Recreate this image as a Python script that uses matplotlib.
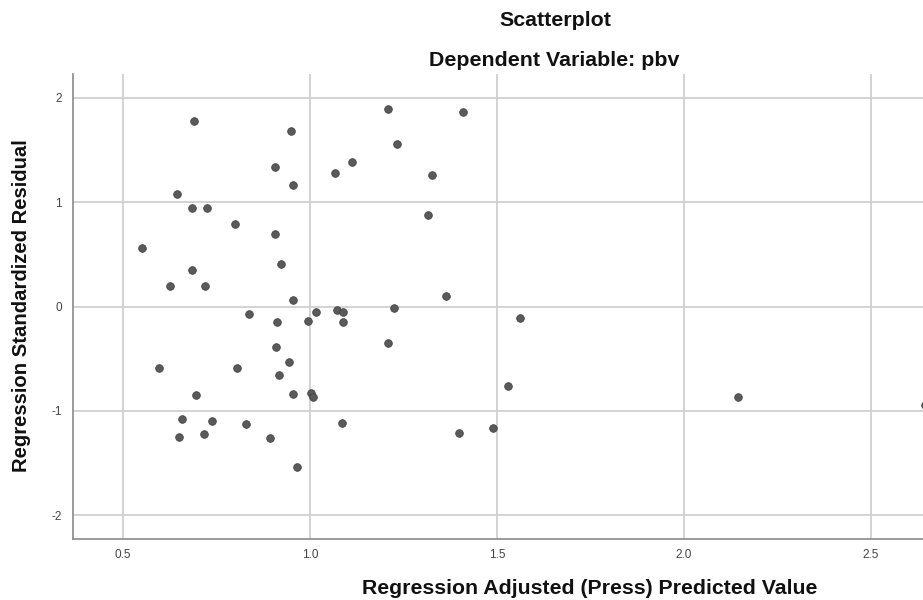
import matplotlib
matplotlib.use("Agg")
import matplotlib.pyplot as plt

# Data
pred = [0.551, 0.691, 0.948, 0.906, 0.954, 1.067, 0.644, 0.684, 0.725, 0.800,
        0.906, 0.922, 0.684, 0.625, 0.720, 0.955, 0.838, 0.911, 0.995, 1.016,
        1.071, 1.089, 1.087, 0.908, 0.943, 0.917, 0.596, 0.806, 0.694, 0.954,
        1.003, 1.008, 0.657, 0.738, 0.651, 0.717, 0.828, 0.893, 0.964, 1.085,
        1.208, 1.408, 1.233, 1.113, 1.325, 1.316, 1.364, 1.225, 1.561, 1.209,
        1.530, 1.490, 1.398, 2.145, 2.645]
resid = [0.56, 1.78, 1.68, 1.34, 1.17, 1.285, 1.08, 0.945, 0.945, 0.794,
         0.696, 0.408, 0.354, 0.194, 0.194, 0.067, -0.07, -0.146, -0.14, -0.05,
         -0.03, -0.05, -0.146, -0.39, -0.53, -0.66, -0.593, -0.593, -0.85, -0.835,
         -0.83, -0.87, -1.075, -1.10, -1.25, -1.225, -1.13, -1.257, -1.544, -1.12,
         1.89, 1.863, 1.557, 1.39, 1.263, 0.88, 0.099, -0.013, -0.108, -0.348,
         -0.763, -1.167, -1.215, -0.868, -0.94]
x_ticks = [0.5, 1.0, 1.5, 2.0, 2.5]
x_tick_labels = ["0.5", "1.0", "1.5", "2.0", "2.5"]
y_ticks = [-2, -1, 0, 1, 2]
y_tick_labels = ["-2", "-1", "0", "1", "2"]

plt.rcParams['font.family'] = ['Liberation Sans', 'DejaVu Sans']

W, H = 923, 600
fig = plt.figure(figsize=(W / 100, H / 100), dpi=100)
ax = fig.add_axes([73 / W, 1 - 539 / H, 1 - 73 / W, (539 - 74) / H])

ax.set_xlim(0.3663, 2.639)
ax.set_ylim(-2.23, 2.23)

ax.grid(True, color='#d0d0d0', linewidth=1.3)
ax.set_axisbelow(True)
ax.scatter(pred, resid, s=30, color='#5a5a5a', edgecolors='#444444',
           linewidths=0.6, zorder=3)

ax.set_xticks(x_ticks)
ax.set_xticklabels(x_tick_labels)
ax.set_yticks(y_ticks)
ax.set_yticklabels(y_tick_labels)
ax.tick_params(axis='both', length=0, labelsize=8.5, labelcolor='#444444')
ax.tick_params(axis='x', pad=7)
ax.tick_params(axis='y', pad=8)

for side in ['top', 'right']:
    ax.spines[side].set_visible(False)
for side in ['left', 'bottom']:
    ax.spines[side].set_color('#8a8a8a')
    ax.spines[side].set_linewidth(1.2)

fig.text(555 / W, 1 - 21 / H, "Scatterplot", ha='center', va='center',
         fontsize=15.4, fontweight='bold', color='#111111')
fig.text(554 / W, 1 - 60 / H, "Dependent Variable: pbv", ha='center', va='center',
         fontsize=15.4, fontweight='bold', color='#111111')
fig.text(590 / W, 1 - 588 / H, "Regression Adjusted (Press) Predicted Value",
         ha='center', va='center', fontsize=15.3, fontweight='bold', color='#111111')
fig.text(22 / W, 1 - 306 / H, "Regression Standardized Residual", rotation=90,
         ha='center', va='center', fontsize=14.6, fontweight='bold', color='#111111')

fig.savefig("out.png", dpi=100)
